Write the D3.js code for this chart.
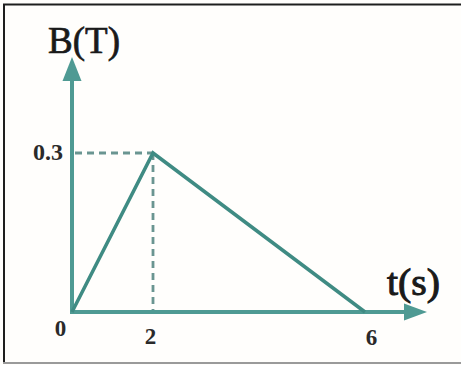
<!DOCTYPE html>
<html>
<head>
<meta charset="utf-8">
<script src="https://cdn.jsdelivr.net/npm/d3@7"></script>
<style>
  html, body { margin: 0; padding: 0; background: #ffffff; }
  svg { display: block; }
</style>
</head>
<body>
<svg id="chart" width="461" height="365"></svg>
<script>
// ---- data ----
const tValues = [0, 2, 6];          // time (s)
const bValues = [0, 0.3, 0];        // B (T)
const xTickValues = [0, 2, 6];
const xTickLabels = ["0", "2", "6"];
const yTickValues = [0.3];
const yTickLabels = ["0.3"];
const xAxisTitle = "t(s)";
const yAxisTitle = "B(T)";

// ---- layout ----
const svg = d3.select("#chart");
const W = 461, H = 365;
const axisColor = "#4f9a93";
const lineColor = "#3f8b83";
const dashColor = "#6a9591";

// schematic (non-uniform) scales as in the drawing
const x = d3.scaleLinear().domain([0, 2, 6, 7.15]).range([72, 153, 365, 427]);
const y = d3.scaleLinear().domain([0, 0.3, 0.6]).range([312, 153, 57]);

// background & frame
svg.append("rect").attr("width", W).attr("height", H).attr("fill", "#fffefc");
svg.append("line").attr("x1", 3).attr("x2", W).attr("y1", 4.5).attr("y2", 4.5)
  .attr("stroke", "#1e1e1e").attr("stroke-width", 2);
svg.append("line").attr("x1", 4).attr("x2", 4).attr("y1", 4).attr("y2", 363)
  .attr("stroke", "#1e1e1e").attr("stroke-width", 2);
svg.append("line").attr("x1", 3).attr("x2", W).attr("y1", 363).attr("y2", 363)
  .attr("stroke", "#9a9a9a").attr("stroke-width", 2);

// dashed guides to the peak
const peakIdx = bValues.indexOf(d3.max(bValues));
const px = x(tValues[peakIdx]), py = y(bValues[peakIdx]);
svg.append("line").attr("x1", x(0) + 3).attr("x2", px).attr("y1", py).attr("y2", py)
  .attr("stroke", dashColor).attr("stroke-width", 2.8).attr("stroke-dasharray", "7,5");
svg.append("line").attr("x1", px).attr("x2", px).attr("y1", py).attr("y2", y(0) - 2)
  .attr("stroke", dashColor).attr("stroke-width", 2.8).attr("stroke-dasharray", "7,5");

// axes lines with arrows
const xEnd = x.range()[3], yEnd = y.range()[2];
svg.append("line").attr("x1", x(0)).attr("x2", xEnd - 20).attr("y1", y(0)).attr("y2", y(0))
  .attr("stroke", axisColor).attr("stroke-width", 4);
svg.append("line").attr("x1", x(0)).attr("x2", x(0)).attr("y1", y(0) + 2).attr("y2", yEnd + 20)
  .attr("stroke", axisColor).attr("stroke-width", 4);
svg.append("path")
  .attr("d", `M${xEnd},${y(0)} L${xEnd - 23},${y(0) - 8.5} L${xEnd - 23},${y(0) + 8.5} Z`)
  .attr("fill", axisColor);
svg.append("path")
  .attr("d", `M${x(0)},${yEnd} L${x(0) - 9.5},${yEnd + 24} L${x(0) + 9.5},${yEnd + 24} Z`)
  .attr("fill", axisColor);

// data line
const line = d3.line().x((d, i) => x(tValues[i])).y(d => y(d));
svg.append("path").datum(bValues).attr("d", line)
  .attr("fill", "none").attr("stroke", lineColor).attr("stroke-width", 3.5)
  .attr("stroke-linejoin", "miter");

// tick labels via axes
const fontFamily = "'Times New Roman', 'Liberation Serif', Times, serif";
const xAxis = d3.axisBottom(x).tickValues(xTickValues)
  .tickFormat((d, i) => xTickLabels[i]).tickSize(0).tickPadding(0);
const gx = svg.append("g").attr("transform", `translate(0,${y(0)})`).call(xAxis);
gx.select(".domain").remove();
const xOffsets = [[-12, 24], [-3, 32], [6, 33]];
gx.selectAll(".tick text")
  .attr("font-family", fontFamily).attr("font-size", 23).attr("font-weight", "bold")
  .attr("fill", "#2a2a2a").attr("dy", null)
  .attr("x", (d, i) => xOffsets[i][0]).attr("y", (d, i) => xOffsets[i][1]);

const yAxis = d3.axisLeft(y).tickValues(yTickValues)
  .tickFormat((d, i) => yTickLabels[i]).tickSize(0).tickPadding(0);
const gy = svg.append("g").attr("transform", `translate(${x(0)},0)`).call(yAxis);
gy.select(".domain").remove();
gy.selectAll(".tick text")
  .attr("font-family", fontFamily).attr("font-size", 23).attr("font-weight", "bold")
  .attr("fill", "#2a2a2a").attr("dy", null).attr("x", -9).attr("y", 6)
  .attr("textLength", 30).attr("lengthAdjust", "spacingAndGlyphs");

// axis titles
svg.append("text").attr("x", 48).attr("y", 53)
  .attr("font-family", fontFamily).attr("font-size", 37)
  .attr("fill", "#1a1a1a").attr("stroke", "#1a1a1a").attr("stroke-width", 0.7)
  .attr("textLength", 72).attr("lengthAdjust", "spacingAndGlyphs")
  .text(yAxisTitle);
svg.append("text").attr("x", 387).attr("y", 295)
  .attr("font-family", fontFamily).attr("font-size", 38)
  .attr("fill", "#1a1a1a").attr("stroke", "#1a1a1a").attr("stroke-width", 1)
  .attr("textLength", 53).attr("lengthAdjust", "spacingAndGlyphs")
  .text(xAxisTitle);
</script>
</body>
</html>
